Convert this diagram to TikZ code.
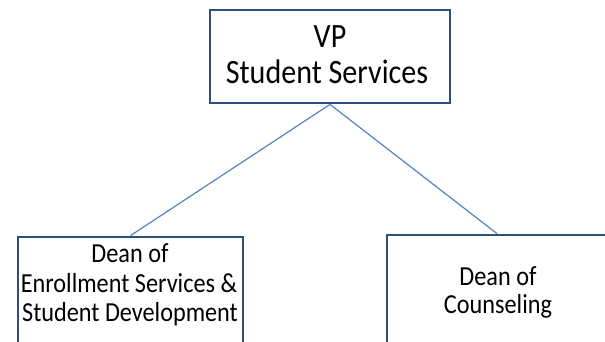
\documentclass[tikz,border=0pt]{standalone}
\usepackage{fontspec}
\setmainfont{Carlito}
\definecolor{boxblue}{HTML}{2E4E80}
\definecolor{lineblue}{HTML}{5583C0}
\newcommand{\tallt}[1]{\scalebox{0.97}[1.1]{#1}}
\begin{document}
\begin{tikzpicture}[x=1pt,y=-1pt,
  orgbox/.style={draw=boxblue,line width=2.8pt,fill=white,rectangle,inner sep=0pt},
  link/.style={draw=lineblue,line width=1.2pt},
  big/.style={font=\fontsize{31}{36}\selectfont,anchor=base,inner sep=0pt},
  small/.style={font=\fontsize{25}{29}\selectfont,anchor=base,inner sep=0pt}]
\useasboundingbox (0,0) rectangle (605,341);
\clip (0,0) rectangle (605,341);
\node[orgbox,minimum width=240pt,minimum height=93pt] (vp) at (330,56.5) {};
\node[orgbox,minimum width=225pt,minimum height=130pt] (enr) at (130.5,302) {};
\node[orgbox,minimum width=220pt,minimum height=130pt] (cou) at (497,300) {};
\draw[link] (vp.south) -- (enr.north);
\draw[link] (vp.south) -- (cou.north);
\node[big] (t1) at (330,47) {\tallt{VP}};
\node[big] (t2) at (327,83) {\tallt{Student Services}};
\node[small] (l1) at (130,262) {\tallt{Dean of}};
\node[small] (l2) at (129,292) {\tallt{Enrollment Services \&}};
\node[small] (l3) at (130,321) {\tallt{Student Development}};
\node[small] (r1) at (498,285) {\tallt{Dean of}};
\node[small] (r2) at (498,313) {\tallt{Counseling}};
\end{tikzpicture}
\end{document}
